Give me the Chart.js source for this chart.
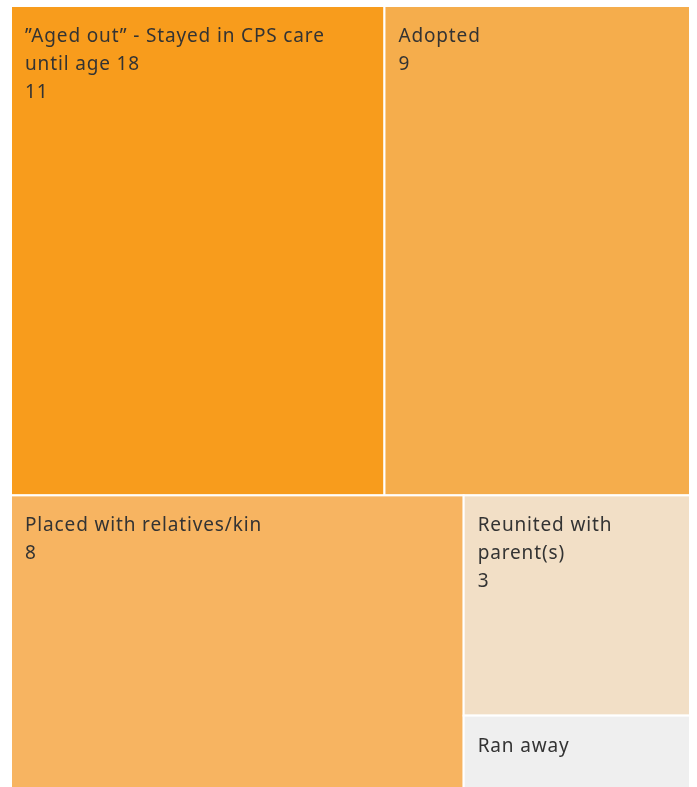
<!DOCTYPE html>
<html>
<head>
<meta charset="utf-8">
<script src="https://cdn.jsdelivr.net/npm/chart.js@4"></script>
<style>
  html, body { margin: 0; padding: 0; background: #fff; overflow: hidden; }
  #wrap { width: 697px; height: 790px; }
</style>
</head>
<body>
<div id="wrap"><canvas id="treemap" width="697" height="790"></canvas></div>
<script>
const categories = ['\u201DAged out\u201D - Stayed in CPS care until age 18', 'Adopted', 'Placed with relatives/kin', 'Reunited with parent(s)', 'Ran away'];
const labelLines = [
    ['\u201DAged out\u201D - Stayed in CPS care', 'until age 18'],
    ['Adopted'],
    ['Placed with relatives/kin'],
    ['Reunited with', 'parent(s)'],
    ['Ran away']
];
const counts = [11, 9, 8, 3, 1];
const showCount = [true, true, true, true, false];
const cellColors = ['#F89C1C', '#F5AD4C', '#F7B461', '#F2DFC6', '#EFEFEF'];

// squarified layout, sizes in pixel units so the aspect ratios are right
function worst(row, side) {
    const s = row.reduce((a, r) => a + r.area, 0);
    let m = 0;
    row.forEach(r => {
        m = Math.max(m, side * side * r.area / (s * s), (s * s) / (side * side * r.area));
    });
    return m;
}

function squarify(items, x, y, w, h, out) {
    if (!items.length) return out;
    const side = Math.min(w, h);
    let row = [items[0]];
    let i = 1;
    while (i < items.length && worst(row.concat(items[i]), side) <= worst(row, side)) {
        row.push(items[i]);
        i++;
    }
    const rowArea = row.reduce((a, r) => a + r.area, 0);
    if (w >= h) {
        const t = rowArea / h;
        let cy = y;
        row.forEach(r => { const rh = r.area / t; out.push({ ...r, x: x, y: cy, w: t, h: rh }); cy += rh; });
        return squarify(items.slice(i), x + t, y, w - t, h, out);
    } else {
        const t = rowArea / w;
        let cx = x;
        row.forEach(r => { const rw = r.area / t; out.push({ ...r, x: cx, y: y, w: rw, h: t }); cx += rw; });
        return squarify(items.slice(i), x, y + t, w, h - t, out);
    }
}

const treemapPlugin = {
    id: 'treemapCells',
    afterDatasetsDraw(chart) {
        const { ctx, chartArea, scales } = chart;
        const W = chartArea.right - chartArea.left;
        const H = chartArea.bottom - chartArea.top;
        const total = counts.reduce((a, b) => a + b, 0);
        const items = counts.map((v, i) => ({ idx: i, area: v / total * W * H }))
            .sort((a, b) => b.area - a.area);
        const cells = squarify(items, 0, 0, W, H, []);

        ctx.save();
        cells.forEach(c => {
            const x0 = scales.x.getPixelForValue(c.x / W);
            const x1 = scales.x.getPixelForValue((c.x + c.w) / W);
            const y0 = scales.y.getPixelForValue(c.y / H);
            const y1 = scales.y.getPixelForValue((c.y + c.h) / H);
            ctx.fillStyle = cellColors[c.idx];
            ctx.fillRect(x0, y0, x1 - x0, y1 - y0);
            ctx.strokeStyle = '#ffffff';
            ctx.lineWidth = 2;
            ctx.strokeRect(x0, y0, x1 - x0, y1 - y0);

            ctx.save();
            ctx.beginPath();
            ctx.rect(x0, y0, x1 - x0, y1 - y0);
            ctx.clip();
            ctx.fillStyle = '#333333';
            ctx.font = '19px "Noto Sans"';
            ctx.letterSpacing = '0.85px';
            ctx.textBaseline = 'alphabetic';
            const lines = labelLines[c.idx].slice();
            if (showCount[c.idx]) lines.push(String(counts[c.idx]));
            lines.forEach((ln, k) => {
                ctx.fillText(ln, x0 + 14, y0 + 36 + k * 28);
            });
            ctx.restore();
        });
        ctx.restore();
    }
};

new Chart(document.getElementById('treemap'), {
    type: 'scatter',
    data: {
        labels: categories,
        datasets: [{ label: 'Children', data: [], pointRadius: 0 }]
    },
    options: {
        responsive: false,
        animation: false,
        layout: { padding: { left: 11, top: 6, right: 7, bottom: 1 } },
        plugins: { legend: { display: false }, tooltip: { enabled: false } },
        scales: {
            x: { type: 'linear', min: 0, max: 1, display: false },
            y: { type: 'linear', min: 0, max: 1, reverse: true, display: false }
        }
    },
    plugins: [treemapPlugin]
});
</script>
</body>
</html>
